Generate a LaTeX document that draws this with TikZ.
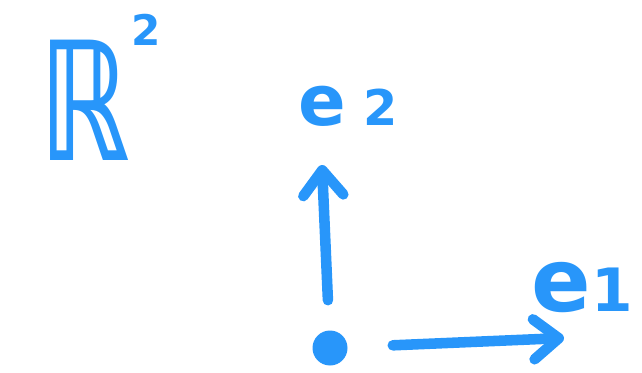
\documentclass[tikz,border=0pt]{standalone}
\usepackage{fontspec}
\newfontfamily\handfont{DejaVu Sans}
\usepackage{xcolor}
\usepackage{tikz}
\usetikzlibrary{arrows.meta}
\definecolor{pen}{RGB}{40,150,250}

\begin{document}
\begin{tikzpicture}[x=0.02cm, y=-0.02cm,
    vec/.style={draw=pen, line width=6pt, line cap=round, -{Straight Barb[length=0.5cm, width=0.8cm, line cap=round, round]}},
    lbl/.style={text=pen, inner sep=0pt, font=\handfont\bfseries}]
    \useasboundingbox (0,0) rectangle (642,372);

    \node [lbl, font=\handfont\bfseries\fontsize{94}{94}\selectfont] (plane) at (84,100) {\scalebox{0.68}[1]{ℝ}};
    \node [lbl, font=\handfont\bfseries\fontsize{24}{24}\selectfont] (planedim) at (146,30) {2};

    \node [circle, fill=pen, minimum size=0.7cm, inner sep=0pt] (o) at (330,348) {};
    \coordinate (e2tip) at (322,165);
    \coordinate (e1tip) at (564,338);
    \draw [vec, shorten <=0.6cm] (o) -- (e2tip);
    \draw [vec, shorten <=0.9cm] (o) -- (e1tip);

    \node [lbl, font=\handfont\bfseries\fontsize{40}{40}\selectfont] (e2) at (348,106) {e\hspace{0.25em}{\fontsize{28}{28}\selectfont 2}};
    \node [lbl, font=\handfont\bfseries\fontsize{50}{50}\selectfont] (e1) at (582,288) {e{\fontsize{34}{34}\selectfont 1}};
\end{tikzpicture}
\end{document}
